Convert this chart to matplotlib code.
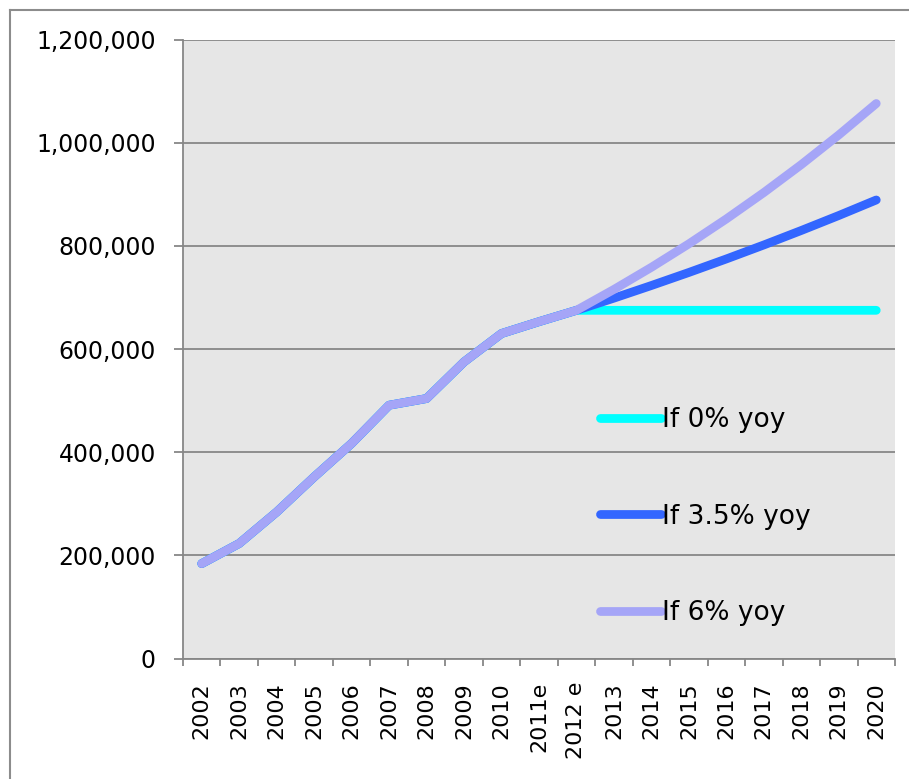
import matplotlib.pyplot as plt
from matplotlib.lines import Line2D
from matplotlib.ticker import FuncFormatter
import numpy as np

plt.rcParams['font.family'] = 'DejaVu Sans'

years = ['2002', '2003', '2004', '2005', '2006', '2007', '2008', '2009', '2010',
         '2011e', '2012 e', '2013', '2014', '2015', '2016', '2017', '2018', '2019', '2020']

growth_0 = [184000, 223000, 284000, 352000, 417000, 491000, 504000, 575000, 630000,
            653000, 675000, 675000, 675000, 675000, 675000, 675000, 675000, 675000, 675000]
growth_35 = [184000, 223000, 284000, 352000, 417000, 491000, 504000, 575000, 630000,
             653000, 675000, 698600, 723100, 748400, 774600, 801700, 829800, 858800, 888900]
growth_6 = [184000, 223000, 284000, 352000, 417000, 491000, 504000, 575000, 630000,
            653000, 675000, 715500, 758400, 803900, 852200, 903300, 957500, 1015000, 1075900]

series_labels = ['If 0% yoy', 'If 3.5% yoy', 'If 6% yoy']
series_colors = ['#00FFFF', '#3366FF', '#A5A5F7']

grid_col = '#878787'

fig = plt.figure(figsize=(9.09, 7.79), dpi=100)
ax = fig.add_axes([183/909, 1 - 658.5/779, (895 - 183)/909, (658.5 - 39.5)/779])
ax.set_facecolor('#E6E6E6')

x = np.arange(len(years))
for vals, lab, col in zip([growth_0, growth_35, growth_6], series_labels, series_colors):
    ax.plot(x, vals, color=col, lw=6.3, label=lab, solid_capstyle='round',
            solid_joinstyle='round', zorder=3)

ax.set_xlim(-0.5, len(years) - 0.5)
ax.set_ylim(0, 1200000)
ax.set_yticks(np.arange(0, 1200001, 200000))
ax.yaxis.set_major_formatter(FuncFormatter(lambda v, p: f'{int(v):,}'))
ax.grid(axis='y', color=grid_col, lw=1.3, zorder=1)
ax.set_axisbelow(True)

ax.set_xticks(x, years, rotation=90, fontsize=16)
ax.set_xticks(np.arange(-0.5, len(years)), minor=True)
ax.tick_params(axis='x', which='major', length=0, pad=17)
ax.tick_params(axis='x', which='minor', length=5, width=1.3, color=grid_col)
ax.tick_params(axis='y', length=6.5, width=1.3, color=grid_col, pad=13, labelsize=17)

for s in ['top', 'right']:
    ax.spines[s].set_visible(False)
for s in ['left', 'bottom']:
    ax.spines[s].set_color(grid_col)
    ax.spines[s].set_linewidth(1.3)

leg = ax.legend(loc='upper left', bbox_to_anchor=(600/909, 1 - 407/779),
                bbox_transform=fig.transFigure, frameon=False, fontsize=19,
                handlelength=2.3, handletextpad=0.05, labelspacing=2.68,
                borderpad=0, borderaxespad=0)
for h in leg.legend_handles:
    h.set_solid_capstyle('round')

# outer chart border
fig.add_artist(Line2D([10/909, 1], [1 - 10/779, 1 - 10/779], color='#8C8C8C', lw=1.5))
fig.add_artist(Line2D([10/909, 10/909], [0, 1 - 10/779], color='#8C8C8C', lw=1.5))

fig.savefig('out.png', dpi=100)
